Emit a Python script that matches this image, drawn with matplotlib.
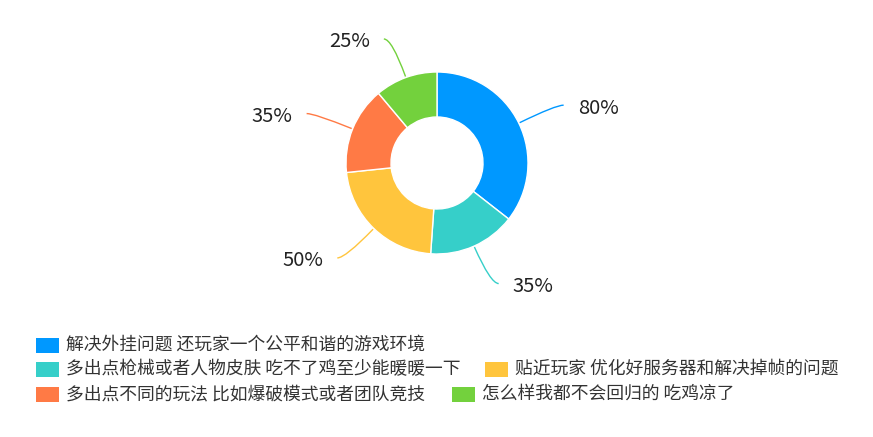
import matplotlib
matplotlib.use("Agg")
import matplotlib.pyplot as plt
import numpy as np
from matplotlib.path import Path
from matplotlib.patches import PathPatch, Rectangle

plt.rcParams['font.family'] = ['Noto Sans CJK SC', 'DejaVu Sans']

labels = [
    "解决外挂问题 还玩家一个公平和谐的游戏环境",
    "多出点枪械或者人物皮肤 吃不了鸡至少能暖暖一下",
    "贴近玩家 优化好服务器和解决掉帧的问题",
    "多出点不同的玩法 比如爆破模式或者团队竞技",
    "怎么样我都不会回归的 吃鸡凉了",
]
values = [80, 35, 50, 35, 25]
colors = ["#0098ff", "#36cfc9", "#ffc53d", "#ff7a45", "#73d13d"]

W, H = 873, 437
fig = plt.figure(figsize=(W / 100, H / 100), dpi=100)
ax = fig.add_axes([0, 0, 1, 1])

# donut, pixel coords (y up)
cx, cy, r = 437, 274, 91
ax.pie(values, colors=colors, startangle=90, counterclock=False,
       radius=r, center=(cx, cy), frame=True,
       wedgeprops=dict(width=45, edgecolor="white", linewidth=1))
ax.set_xlim(0, W)
ax.set_ylim(0, H)
ax.set_aspect("equal")
ax.axis("off")

# leader lines + value labels
total = sum(values)
cum = 0
for v, c in zip(values, colors):
    mid = np.deg2rad(90 - (cum + v / 2) / total * 360)
    cum += v
    dx, dy = np.cos(mid), np.sin(mid)
    side = 1 if dx >= 0 else -1
    p0 = (cx + 92 * dx, cy + 92 * dy)
    p1 = (cx + 132 * dx, cy + 132 * dy)
    p2 = (p1[0] + side * 8, p1[1])
    path = Path([p0, p1, p2], [Path.MOVETO, Path.CURVE3, Path.CURVE3])
    ax.add_patch(PathPatch(path, fc="none", ec=c, lw=1))
    ax.text(p2[0] + side * 14, p2[1] - 3, f"{v}%", fontsize=14.5,
            color="#222222", ha="left" if side > 0 else "right", va="center")

# legend (manual layout like the original)
legend_pos = [(36, 345), (36, 369), (485, 369), (36, 394), (452, 394)]
for lab, c, (x, y) in zip(labels, colors, legend_pos):
    yy = H - y
    ax.add_patch(Rectangle((x, yy - 7.5), 23, 15, fc=c, ec="none"))
    ax.text(x + 30, yy, lab, fontsize=12.8, color="#333333",
            ha="left", va="center")

fig.savefig("out.png", dpi=100)
